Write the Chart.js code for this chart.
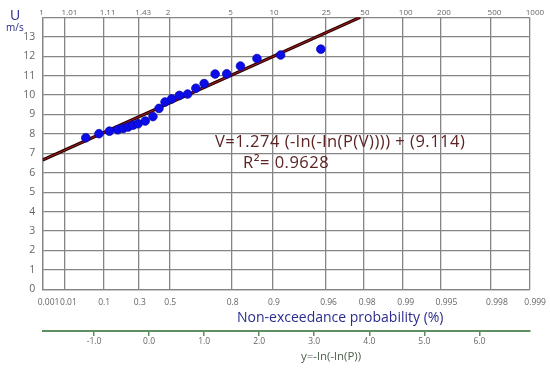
<!DOCTYPE html>
<html>
<head>
<meta charset="utf-8">
<script src="https://cdn.jsdelivr.net/npm/chart.js@4.4.0/dist/chart.umd.min.js"></script>
<style>
  html, body { margin: 0; padding: 0; background: #fff; }
  #wrap { width: 550px; height: 368px; position: relative; }
</style>
</head>
<body>
<div id="wrap"><canvas id="gumbel"></canvas></div>
<script>
// probability grid (non-exceedance) and the matching return periods
const probs = [0.001, 0.01, 0.1, 0.3, 0.5, 0.8, 0.9, 0.96, 0.98, 0.99, 0.995, 0.998, 0.999];
const probLabels = ['0.001', '0.01', '0.1', '0.3', '0.5', '0.8', '0.9', '0.96', '0.98', '0.99', '0.995', '0.998', '0.999'];
const returnLabels = ['1', '1.01', '1.11', '1.43', '2', '5', '10', '25', '50', '100', '200', '500', '1000'];
const reducedTicks = [-1, 0, 1, 2, 3, 4, 5, 6];

// observed wind speeds (m/s) against reduced variate
const reducedY = [-1.15, -0.91, -0.72, -0.57, -0.47, -0.38, -0.29, -0.20, -0.07, 0.07, 0.18, 0.29,
                  0.41, 0.55, 0.70, 0.85, 1.00, 1.20, 1.41, 1.66, 1.96, 2.39, 3.12];
const speeds = [7.80, 8.01, 8.14, 8.21, 8.28, 8.35, 8.45, 8.52, 8.66, 8.89, 9.31, 9.64,
                9.80, 9.98, 10.05, 10.35, 10.59, 11.08, 11.09, 11.49, 11.88, 12.06, 12.36];

// fitted Gumbel line V = slope * y + intercept
const slope = 1.274;
const intercept = 9.114;
const r2 = 0.9628;
const vMax = 14;

const gumbel = p => -Math.log(-Math.log(p));
const xMin = gumbel(probs[0]);
const xMax = gumbel(probs[probs.length - 1]);
const xEnd = (vMax - intercept) / slope;
const fitLine = [
  { x: xMin, y: slope * xMin + intercept },
  { x: xEnd, y: vMax }
];
const points = reducedY.map((y, i) => ({ x: y, y: speeds[i] }));

const gridColor = '#858585';
const green = '#5f8f5f';
Chart.defaults.font.family = "'Open Sans', sans-serif";

const noPad = s => { s.paddingLeft = 0; s.paddingRight = 0; s.paddingTop = 0; s.paddingBottom = 0; };

// free text: axis titles, unit and the fit equation
const textPlugin = {
  id: 'extraText',
  afterDraw(chart) {
    const ctx = chart.ctx;
    ctx.save();
    ctx.textBaseline = 'middle';
    ctx.textAlign = 'left';

    ctx.fillStyle = '#26268c';
    ctx.font = "14px 'Open Sans', sans-serif";
    ctx.fillText('U', 10, 16);
    ctx.font = "10px 'Open Sans', sans-serif";
    ctx.fillText('m/s', 6, 28);

    ctx.font = "14px 'Open Sans', sans-serif";
    ctx.fillStyle = '#2b2b8f';
    ctx.fillText('Non-exceedance probability (%)', 237, 318);

    ctx.font = "11.5px 'Open Sans', sans-serif";
    ctx.fillStyle = '#4d5f4d';
    ctx.fillText('y=-ln(-ln(P))', 301, 357);

    ctx.font = "16.5px 'Open Sans', sans-serif";
    ctx.letterSpacing = '0.5px';
    ctx.fillStyle = '#5c2323';
    ctx.fillText('V=' + slope + ' (-ln(-ln(P(V)))) + (' + intercept + ')', 215, 142);
    ctx.fillText('R\u00B2= ' + r2, 243, 163);
    ctx.restore();
  }
};

new Chart(document.getElementById('gumbel'), {
  type: 'scatter',
  data: {
    datasets: [
      {
        data: points,
        order: 0,
        pointRadius: 4.3,
        pointHoverRadius: 4.3,
        backgroundColor: '#0c0ce8',
        borderColor: '#0808b0',
        borderWidth: 0.8
      },
      {
        type: 'line',
        data: fitLine,
        order: 1,
        borderColor: '#a81c1c',
        borderWidth: 1,
        pointRadius: 0,
        fill: false
      },
      {
        type: 'line',
        data: fitLine,
        order: 2,
        borderColor: '#2a0202',
        borderWidth: 3.2,
        pointRadius: 0,
        fill: false
      }
    ]
  },
  options: {
    responsive: true,
    maintainAspectRatio: false,
    animation: false,
    layout: { padding: { left: 0, right: 20.7, top: 0, bottom: 0 } },
    plugins: {
      legend: { display: false },
      tooltip: { enabled: false }
    },
    scales: {
      x: {
        type: 'linear',
        position: 'bottom',
        weight: 0,
        min: xMin,
        max: xMax,
        afterBuildTicks: s => { s.ticks = probs.map(p => ({ value: gumbel(p) })); },
        afterFit: s => { s.height = 41.7; noPad(s); },
        ticks: {
          autoSkip: false, maxRotation: 0, minRotation: 0,
          align: 'start', labelOffset: -5, padding: 8.5,
          color: '#666', font: { size: 8.5 },
          callback: (v, i) => probLabels[i]
        },
        grid: { color: gridColor, lineWidth: 1.3, drawTicks: false },
        border: { color: gridColor, width: 1.3 }
      },
      xTop: {
        type: 'linear',
        position: 'top',
        min: xMin,
        max: xMax,
        afterBuildTicks: s => { s.ticks = probs.map(p => ({ value: gumbel(p) })); },
        afterFit: s => { s.height = 17.3; noPad(s); },
        ticks: {
          autoSkip: false, maxRotation: 0, minRotation: 0,
          align: 'start', labelOffset: -3.5, padding: 0,
          color: '#666', font: { size: 8 },
          callback: (v, i) => returnLabels[i]
        },
        grid: { display: false, drawTicks: false },
        border: { display: false }
      },
      xRed: {
        type: 'linear',
        position: 'bottom',
        weight: 1,
        min: xMin,
        max: xMax,
        afterBuildTicks: s => { s.ticks = reducedTicks.map(v => ({ value: v })); },
        afterFit: s => { s.height = 37; noPad(s); },
        ticks: {
          autoSkip: false, maxRotation: 0, minRotation: 0,
          padding: 0.5, color: '#666', font: { size: 8.5 },
          callback: v => v.toFixed(1)
        },
        grid: { drawOnChartArea: false, drawTicks: true, tickLength: 5, color: green, lineWidth: 1.5 },
        border: { color: green, width: 2 }
      },
      y: {
        type: 'linear',
        position: 'left',
        min: 0,
        max: vMax,
        afterFit: s => { s.width = 42.7; noPad(s); },
        ticks: {
          stepSize: 1, padding: 7.5, color: '#666', font: { size: 10.5 },
          callback: v => (v === vMax ? '' : v)
        },
        grid: { color: gridColor, lineWidth: 1.3, drawTicks: false },
        border: { color: gridColor, width: 1.3 }
      }
    }
  },
  plugins: [textPlugin]
});
</script>
</body>
</html>
